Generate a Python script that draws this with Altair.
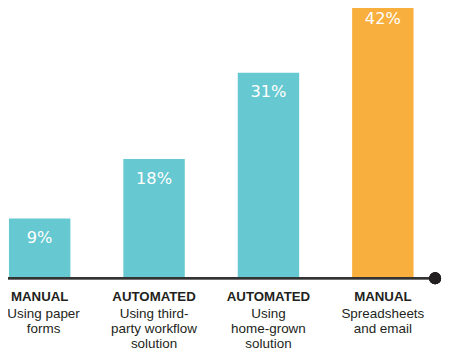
import altair as alt
import pandas as pd

categories = ["MANUAL", "AUTOMATED", "AUTOMATED", "MANUAL"]
descriptions = [
    "Using paper\nforms",
    "Using third-\nparty workflow\nsolution",
    "Using\nhome-grown\nsolution",
    "Spreadsheets\nand email",
]
values = [9, 18, 31, 42]
labels = ["9%", "18%", "31%", "42%"]
highlight = ["no", "no", "no", "yes"]

df = pd.DataFrame({
    "key": ["a", "b", "c", "d"],
    "cat": categories,
    "desc": descriptions,
    "value": values,
    "label": labels,
    "hl": highlight,
})

FONT = "Liberation Sans"

x = alt.X("key:N", sort=None, axis=None,
          scale=alt.Scale(range=[-26, 440], paddingInner=0.463, paddingOuter=0.2315))
y = alt.Y("value:Q", axis=None, scale=alt.Scale(domain=[0, 40.3], nice=False, zero=True))

base = alt.Chart(df)

bars = base.mark_bar().encode(
    x=x, y=y,
    color=alt.Color("hl:N", legend=None,
                    scale=alt.Scale(domain=["no", "yes"], range=["#66C8D0", "#F9AF3D"])),
)

pct = base.mark_text(color="white", font="DejaVu Sans", fontSize=16.5,
                     baseline="middle", dy=20).encode(
    x=x, y=y, text="label:N")

cat_text = base.mark_text(color="#231f20", font=FONT, fontSize=13.5, fontWeight="bold",
                          baseline="alphabetic").encode(
    x=x, y=alt.value(295.5), text="cat:N")

desc_first = base.transform_filter("datum.key == 'a'").mark_text(
    color="#231f20", font=FONT, fontSize=13.7, baseline="alphabetic",
    lineBreak="\n", lineHeight=15.5, dx=4).encode(
    x=x, y=alt.value(312), text="desc:N")

desc_rest = base.transform_filter("datum.key != 'a'").mark_text(
    color="#231f20", font=FONT, fontSize=13.7, baseline="alphabetic",
    lineBreak="\n", lineHeight=15.5).encode(
    x=x, y=alt.value(312), text="desc:N")

rule = base.mark_rule(color="#333333", strokeWidth=2).encode(
    x=alt.value(-10), x2=alt.value(435), y=alt.value(272))

dot = base.mark_point(filled=True, shape="circle", color="#231f20", opacity=1, size=144).encode(
    x=alt.value(435), y=alt.value(272))

chart = alt.layer(bars, pct, rule, dot, cat_text, desc_first, desc_rest).properties(
    width=442, height=272,
    autosize=alt.AutoSizeParams(type="none"),
    padding={"left": 0, "top": 0, "right": 0, "bottom": 79},
).configure_view(stroke=None)

chart.save("out.html", embed_options={"renderer": "svg", "actions": False})
